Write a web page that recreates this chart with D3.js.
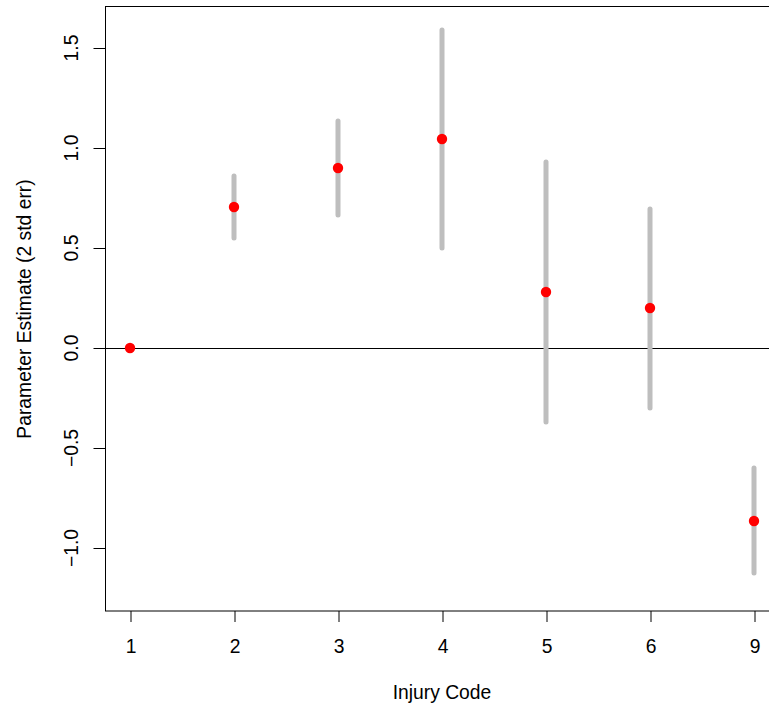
<!DOCTYPE html>
<html>
<head>
<meta charset="utf-8">
<script src="https://cdn.jsdelivr.net/npm/d3@7"></script>
<style>
  body { margin: 0; background: #fff; }
  svg { display: block; }
  text { font-family: "Liberation Sans", Arial, sans-serif; fill: #000; }
</style>
</head>
<body>
<div id="chart"></div>
<script>
// injury codes and their estimates, with +/- 2 std err bounds
const codes = ['1', '2', '3', '4', '5', '6', '9'];
const estimate = [0, 0.705, 0.90, 1.045, 0.28, 0.20, -0.865];
const lower = [0, 0.55, 0.665, 0.50, -0.37, -0.30, -1.125];
const upper = [0, 0.86, 1.135, 1.59, 0.93, 0.695, -0.60];
const yTicks = [-1.0, -0.5, 0.0, 0.5, 1.0, 1.5];

const width = 769;
const height = 707;
const marginLeft = 105;
const marginTop = 7;
const marginBottom = 96;
const fontSize = 19.3;

const rows = codes.map((c, i) => ({code: c, est: estimate[i], lo: lower[i], hi: upper[i]}));

// R style: 4% padding on each side of the index range
const scaleX = d3.scalePoint()
  .domain(codes)
  .range([130, 754]);

const scaleY = d3.scaleLinear()
  .domain([-1.315, 1.705])
  .range([height - marginBottom, marginTop]);

const $svg = d3.select('#chart').append('svg')
  .attr('width', width)
  .attr('height', height);

// zero reference line
$svg.append('line')
  .attr('x1', marginLeft).attr('x2', width)
  .attr('y1', scaleY(0) + 0.5).attr('y2', scaleY(0) + 0.5)
  .attr('stroke', '#000').attr('stroke-width', 1);

// error bars
$svg.append('g').selectAll('line')
  .data(rows.filter(d => d.hi !== d.lo))
  .join('line')
  .attr('x1', d => scaleX(d.code)).attr('x2', d => scaleX(d.code))
  .attr('y1', d => scaleY(d.lo)).attr('y2', d => scaleY(d.hi))
  .attr('stroke', '#bebebe')
  .attr('stroke-width', 5)
  .attr('stroke-linecap', 'round');

// points
$svg.append('g').selectAll('circle')
  .data(rows)
  .join('circle')
  .attr('cx', d => scaleX(d.code))
  .attr('cy', d => scaleY(d.est))
  .attr('r', 5.2)
  .attr('fill', '#ff0000');

// plot box (right edge falls outside the window)
$svg.append('rect')
  .attr('x', marginLeft + 0.5)
  .attr('y', marginTop - 0.5)
  .attr('width', 779 - marginLeft)
  .attr('height', scaleY.range()[0] - marginTop + 0.5)
  .attr('fill', 'none')
  .attr('stroke', '#000')
  .attr('stroke-width', 1);

// x axis
const axisX = d3.axisBottom(scaleX).tickSizeOuter(0).tickSize(11).tickPadding(17);
const $ax = $svg.append('g')
  .attr('transform', `translate(0.5, ${scaleY.range()[0]})`)
  .call(axisX);
$ax.select('.domain').remove();
$ax.selectAll('text').attr('font-size', fontSize).attr('font-family', '"Liberation Sans", Arial, sans-serif');

// y axis, labels rotated like R's default las = 0
const axisY = d3.axisLeft(scaleY).tickValues(yTicks).tickFormat(d3.format('.1f')).tickSize(12).tickSizeOuter(0);
const $ay = $svg.append('g')
  .attr('transform', `translate(${marginLeft + 0.5}, 0)`)
  .call(axisY);
$ay.select('.domain').remove();
$ay.selectAll('.tick').attr('transform', null);
$ay.selectAll('.tick line')
  .attr('y1', d => scaleY(d) + 0.5).attr('y2', d => scaleY(d) + 0.5);
$ay.selectAll('.tick text')
  .attr('font-size', fontSize)
  .attr('font-family', '"Liberation Sans", Arial, sans-serif')
  .attr('text-anchor', 'middle')
  .attr('x', 0).attr('y', 0).attr('dy', null)
  .attr('transform', d => `translate(-28, ${scaleY(d)}) rotate(-90)`);

// axis titles
$svg.append('text')
  .attr('x', 442).attr('y', 699)
  .attr('text-anchor', 'middle')
  .attr('font-size', fontSize)
  .text('Injury Code');

$svg.append('text')
  .attr('transform', `translate(31, ${(scaleY.range()[0] + scaleY.range()[1]) / 2}) rotate(-90)`)
  .attr('text-anchor', 'middle')
  .attr('font-size', fontSize)
  .text('Parameter Estimate (2 std err)');
</script>
</body>
</html>
